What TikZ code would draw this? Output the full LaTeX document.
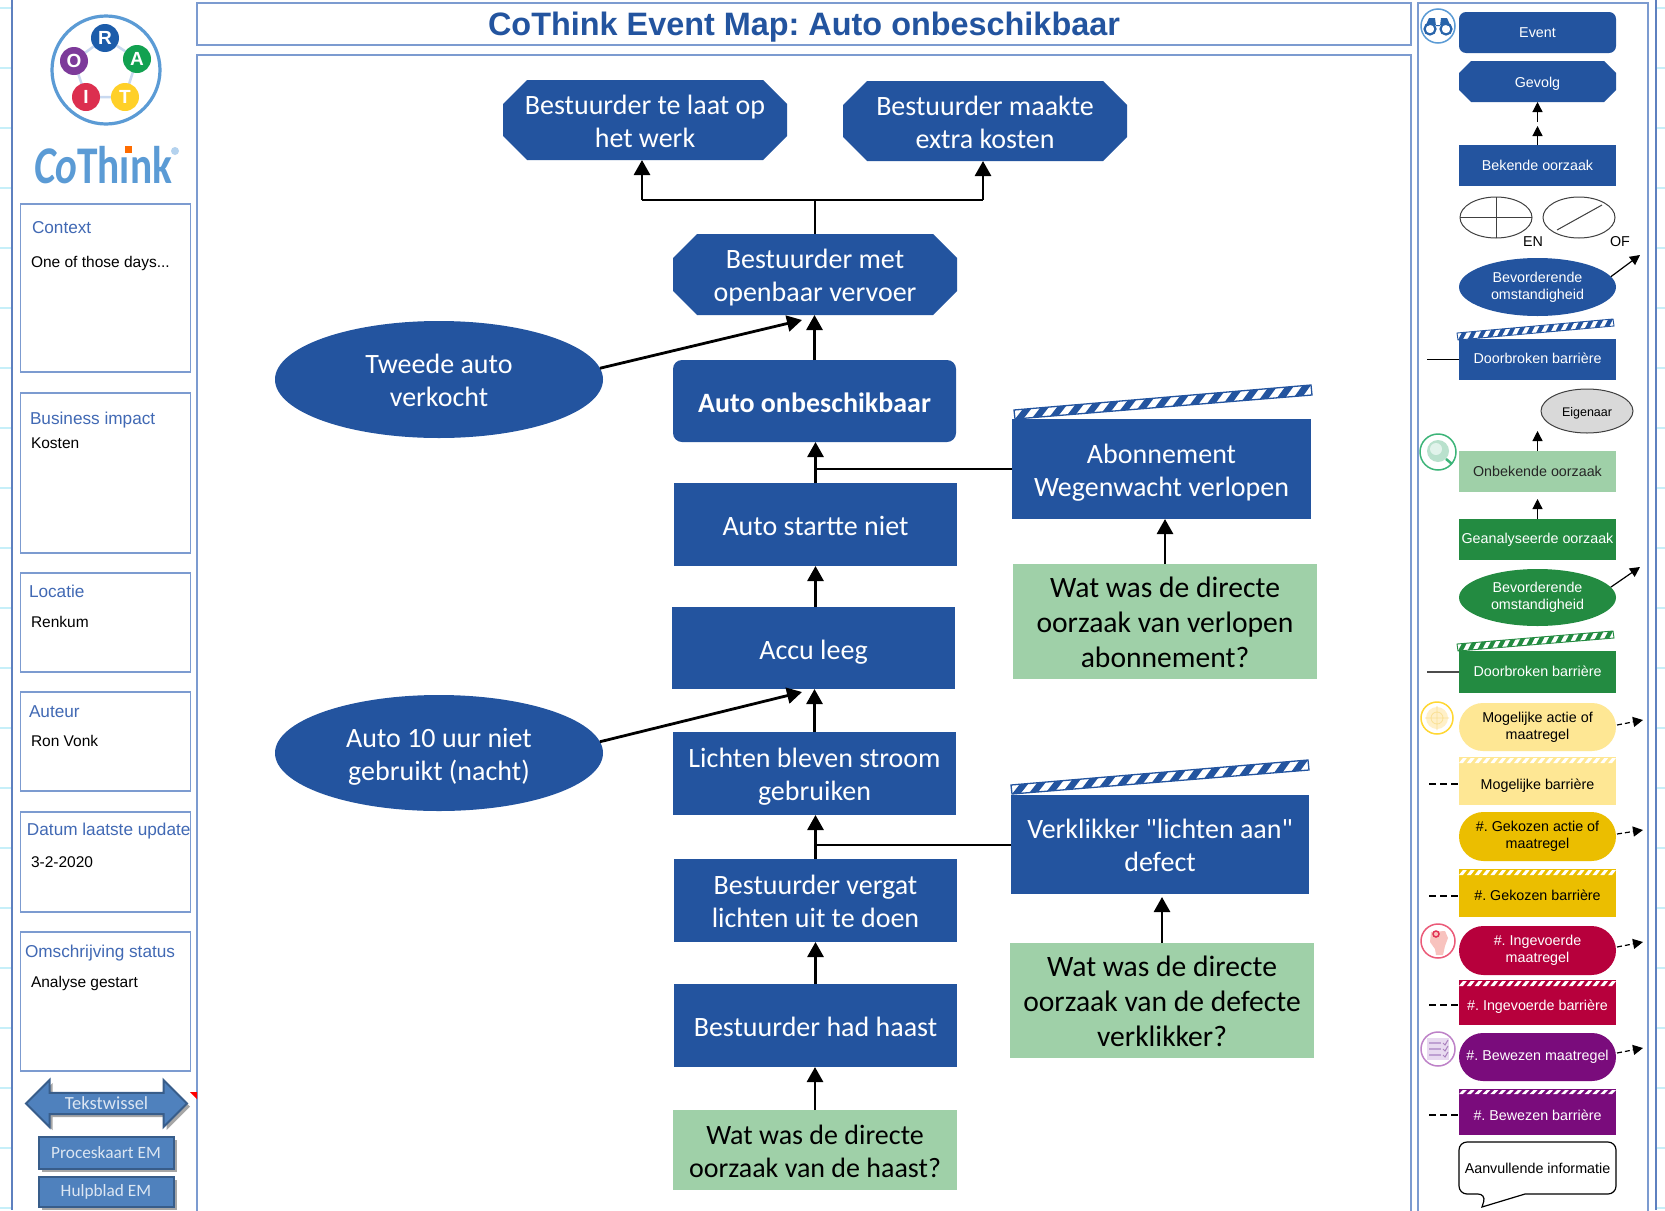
\documentclass[tikz,border=0pt]{standalone}
\usepackage{fontspec}
\setmainfont{Carlito}
\newfontfamily\arialf{Liberation Sans}
\newfontfamily\plainc[Ligatures=NoCommon]{Carlito}
\usetikzlibrary{arrows.meta,shapes.misc,shapes.geometric,shapes.arrows,shadows,calc}
\AtBeginDocument{\frenchspacing}
\definecolor{eblue}{HTML}{23549F}
\definecolor{frameb}{HTML}{7C9BD0}
\definecolor{lblue}{HTML}{4169B4}
\definecolor{lgreen}{HTML}{9FD0A8}
\definecolor{dgreen}{HTML}{238B41}
\definecolor{pyellow}{HTML}{FEE794}
\definecolor{gyellow}{HTML}{EBBE00}
\definecolor{cred}{HTML}{B7003C}
\definecolor{cpurple}{HTML}{7A0C7C}
\definecolor{btn}{HTML}{4F81BD}
\definecolor{btnb}{HTML}{385D8A}
\definecolor{btnt}{HTML}{DCE6F2}
\definecolor{logob}{HTML}{5B9BD5}
\definecolor{logoin}{HTML}{C9D9F0}
\definecolor{ballR}{HTML}{1C5CAA}
\definecolor{ballA}{HTML}{12A150}
\definecolor{ballT}{HTML}{FFD028}
\definecolor{ballI}{HTML}{DC2F4F}
\definecolor{ballO}{HTML}{7D3A9A}
\definecolor{logoreg}{HTML}{B4D2EE}
\definecolor{icbin}{HTML}{2864AA}
\definecolor{icg}{HTML}{3CB478}
\definecolor{icg1}{HTML}{B9E1CD}
\definecolor{icg2}{HTML}{E1F3EB}
\definecolor{icy}{HTML}{FFD732}
\definecolor{icy1}{HTML}{FFF0C8}
\definecolor{icy2}{HTML}{FAE196}
\definecolor{icr}{HTML}{EB5A78}
\definecolor{icr1}{HTML}{F8C3BE}
\definecolor{icr2}{HTML}{E13255}
\definecolor{icp}{HTML}{BE82C8}
\definecolor{icp1}{HTML}{E8DAF0}
\definecolor{icp2}{HTML}{BEA0D2}
\definecolor{icp3}{HTML}{AA82BE}
\definecolor{tickc}{HTML}{C6EFF9}
\newcommand\fsz[2]{\fontsize{#1}{#2}\selectfont}
\newcommand\lowered[2]{\raisebox{-#1pt}[0pt][0pt]{#2}}
\newcommand\up{\rule{0pt}{29pt}}
\newcommand\hatchbar[7]{%
  \begin{scope}
  \clip (#1)--(#2)--(#4)--(#3)--cycle;
  \fill[#5] (#1)--(#2)--(#4)--(#3)--cycle;
  \foreach \k in {-1,...,#7}{
    \pgfmathsetmacro\ta{\k/#7}
    \pgfmathsetmacro\tb{(\k+0.5)/#7}
    \pgfmathsetmacro\tc{(\k+0.5)/#7}
    \pgfmathsetmacro\td{(\k+1)/#7}
    \fill[#6] ($(#1)!\ta!(#2)$) -- ($(#1)!\tb!(#2)$) -- ($(#3)!\td!(#4)$) -- ($(#3)!\tc!(#4)$) -- cycle;
  }
  \end{scope}}
% style, name, x, y, w, h, chamfer, text
\newcommand\octa[8]{%
  \fill[eblue,shift={(#3,#4)}] ({-#5/2+#7},{-#6/2}) -- ({#5/2-#7},{-#6/2}) -- ({#5/2},{-#6/2+#7}) -- ({#5/2},{#6/2-#7}) -- ({#5/2-#7},{#6/2}) -- ({-#5/2+#7},{#6/2}) -- ({-#5/2},{#6/2-#7}) -- ({-#5/2},{-#6/2+#7}) -- cycle;
  \node[#1,fill=none,minimum width=#5pt,minimum height=#6pt] (#2) at (#3,#4) {#8};}
\tikzset{
  x=1pt,y=-1pt,
  every node/.style={inner sep=0pt,outer sep=0pt},
  frm/.style={draw=frameb,line width=1.3pt,fill=white},
  tick/.style={draw=tickc,line width=1.5pt},
  strutted/.style={execute at begin node={\rule{0pt}{30pt}},execute at end node={\rule[-8pt]{0pt}{8pt}}},
  mainfont/.style={font=\fsz{28}{33},text=white,align=center,strutted},
  mbox/.style={mainfont,fill=eblue,minimum width=283pt,minimum height=83pt},
  mell/.style={mainfont,ellipse,fill=eblue,minimum width=328pt,minimum height=117pt},
  qbox/.style={font=\fsz{29.6}{35},text=black,align=center,fill=lgreen,minimum width=304pt,minimum height=115pt,strutted},
  arr/.style={draw=black,line width=2.8pt,-{Triangle[length=15pt,width=16pt]}},
  plainl/.style={draw=black,line width=2pt},
  sideh/.style={anchor=west,font=\arialf\fsz{17.2}{20},text=lblue},
  sidet/.style={anchor=west,font=\arialf\fsz{15.5}{18},text=black},
  btnbox/.style={draw=btnb,line width=2pt,fill=btn,text=btnt,font=\fsz{18.5}{22},drop shadow={shadow xshift=3pt,shadow yshift=-3pt,fill=black,opacity=.35}},
  ltext/.style={font=\arialf\fsz{14.3}{17},align=center},
  leg/.style={ltext,text=white,fill=eblue,minimum width=157pt,minimum height=41pt},
  lggreen/.style={leg,fill=dgreen},
  lgell/.style={ltext,text=white,ellipse,minimum width=157pt,minimum height=58pt},
  lpill/.style={ltext,rounded rectangle,minimum width=157pt,minimum height=48pt},
  lbar/.style={ltext,minimum width=157pt},
  gateell/.style={ellipse,draw=black!75,line width=1pt,minimum width=72pt,minimum height=41pt},
  larr/.style={draw=black,line width=1.2pt,-{Triangle[length=10pt,width=10pt]}},
  ldash/.style={draw=black,line width=1.2pt,dash pattern=on 7pt off 4pt},
  ldarr/.style={draw=black,line width=1.2pt,dash pattern=on 5pt off 3pt,-{Triangle[length=10pt,width=10pt]}},
  ball/.style={circle,minimum size=28pt,text=white,font=\arialf\bfseries\fsz{19}{22}},
  ring/.style={circle,fill=white,minimum size=34pt,line width=1.5pt},
}
\begin{document}
\begin{tikzpicture}
\useasboundingbox (0,0) rectangle (1665,1210);
\fill[white] (0,0) rectangle (1665,1210);
% grid ticks
\foreach \yy in {8,68,...,1208}{
  \draw[tick] (0,\yy) -- (12,\yy);
  \draw[tick] (1656,\yy) -- (1665,\yy);
}
% outer lines
\draw[draw=lblue!85,line width=2pt] (12,0) -- (12,1210);
\draw[draw=lblue!85,line width=2pt] (1656,0) -- (1656,1210);
% frames
\draw[frm] (197,3) rectangle (1411,45);
\draw[frm] (197,55) rectangle (1411,1220);
\draw[frm] (1418,3) rectangle (1648,1220);
\node[font=\arialf\bfseries\fsz{32.4}{36},text=eblue] (title) at (804,27) {CoThink Event Map: Auto onbeschikbaar};
% logo
\draw[draw=logoin,line width=2.5pt] (105,38)--(137,59)--(125,97)--(86,97)--(74,61)--cycle;
\node[circle,draw=logob,line width=3.2pt,minimum size=108pt] (lgc) at (106,70) {};
\node[ball,fill=ballR] (bR) at (105,38) {R};
\node[ball,fill=ballA] (bA) at (137,59) {A};
\node[ball,fill=ballT] (bT) at (125,97) {T};
\node[ball,fill=ballI] (bI) at (86,97) {I};
\node[ball,fill=ballO] (bO) at (74,61) {O};
\node[anchor=base west,xscale=.78,font=\bfseries\fsz{53}{56},text=logob] (lgt) at (34,183) {\textit{Co}Thınk};
\fill[orange!85!red] (125,146) rectangle (132,153);
\node[circle,fill=logoreg,minimum size=8pt] (lgreg) at (175,151) {};
% left boxes
\draw[frm] (20.5,204) rectangle (190.5,372);
\draw[frm] (20.5,393) rectangle (190.5,553);
\draw[frm] (20.5,573) rectangle (190.5,672);
\draw[frm] (20.5,692) rectangle (190.5,791);
\draw[frm] (20.5,812) rectangle (190.5,912);
\draw[frm] (20.5,932) rectangle (190.5,1071);
\node[sideh] (h1) at (32,228) {Context};
\node[sidet] (t1) at (31,263) {One of those days...};
\node[sideh] (h2) at (30,420) {Business impact};
\node[sidet] (t2) at (31,443) {Kosten};
\node[sideh] (h3) at (29,591) {Locatie};
\node[sidet] (t3) at (31,622) {Renkum};
\node[sideh] (h4) at (29,712) {Auteur};
\node[sidet] (t4) at (31,741) {Ron Vonk};
\node[sideh] (h5) at (27,831) {Datum laatste update};
\node[sidet] (t5) at (31,862) {3-2-2020};
\node[sideh] (h6) at (25,953) {Omschrijving status};
\node[sidet] (t6) at (31,983) {Analyse gestart};
% buttons
\node[btnbox,double arrow,double arrow head extend=9pt,double arrow tip angle=90,minimum height=161pt,minimum width=47pt,shape border rotate=0] (tw) at (106.5,1103.5) {Tekstwissel};
\node[btnbox,font=\fsz{17.3}{22},minimum width=135pt,minimum height=32pt] (pk) at (106,1152.5) {Proceskaart EM};
\node[btnbox,font=\fsz{17.3}{22},minimum width=135pt,minimum height=30pt] (hb) at (106,1191.5) {Hulpblad EM};
\fill[red] (190,1092) -- (197,1092) -- (197,1099) -- cycle;
% main nodes
\octa{mbox}{oct1}{645}{120}{284}{80}{24}{\up Bestuurder te laat op\\het werk}
\octa{mbox}{oct2}{985}{121}{284}{80}{24}{\up Bestuurder maakte\\extra kosten}
\octa{mbox}{oct3}{815}{274.5}{284}{81}{24}{\up Bestuurder met\\openbaar vervoer}
\node[mbox,rounded corners=9pt,minimum height=82pt,font=\bfseries\fsz{28}{33}] (auto) at (814.5,401) {Auto onbeschikbaar};
\node[mbox] (start) at (815.5,524.5) {Auto startte niet};
\node[mbox,minimum height=82pt] (accu) at (813.5,648) {Accu leeg};
\node[mbox] (licht) at (814.5,773.5) {\up Lichten bleven stroom\\gebruiken};
\node[mbox] (verg) at (815.5,900.5) {\up Bestuurder vergat\\lichten uit te doen};
\node[mbox] (haast) at (815.5,1025.5) {Bestuurder had haast};
\node[mbox,fill=lgreen,text=black,minimum width=284pt,minimum height=80pt] (qh) at (815,1150) {\up Wat was de directe\\oorzaak van de haast?};
\node[mell] (ell1) at (439,379.5) {\up Tweede auto\\verkocht};
\node[mell,minimum height=116pt] (ell2) at (439,753) {\up Auto 10 uur niet\\gebruikt (nacht)};
\node[mbox,minimum width=299pt,minimum height=100pt] (abo) at (1161.5,469) {\up Abonnement\\Wegenwacht verlopen};
\node[qbox] (qv) at (1165,621.5) {\up Wat was de directe\\oorzaak van verlopen\\abonnement?};
\node[mbox,minimum width=298pt,minimum height=99pt] (verk) at (1160,844.5) {\up Verklikker {\plainc "}lichten aan{\plainc "}\\defect};
\node[qbox] (qd) at (1162,1000.5) {\up Wat was de directe\\oorzaak van de defecte\\verklikker?};
% tilted bars
\coordinate (b1bl) at (1015,419); \coordinate (b1br) at (1312,395);
\coordinate (b1tl) at (1014,410); \coordinate (b1tr) at (1311,385);
\hatchbar{b1bl}{b1br}{b1tl}{b1tr}{white}{eblue}{17}
\draw[eblue,line width=1.3pt] (b1bl)--(b1br)--(b1tr)--(b1tl)--cycle;
\coordinate (b2bl) at (1012,794); \coordinate (b2br) at (1309,770);
\coordinate (b2tl) at (1011,785); \coordinate (b2tr) at (1308,760);
\hatchbar{b2bl}{b2br}{b2tl}{b2tr}{white}{eblue}{17}
\draw[eblue,line width=1.3pt] (b2bl)--(b2br)--(b2tr)--(b2tl)--cycle;
% main connectors
\coordinate (jn) at (815,200);
\coordinate (jl) at (642,200);
\coordinate (jr) at (983,200);
\draw[plainl] (oct3.north) -- (jn);
\draw[plainl] (jl) -- (jr);
\draw[arr] (jl) -- (jl |- oct1.south);
\draw[arr] (jr) -- (jr |- oct2.south);
\draw[arr] (auto.north) -- (auto.north |- oct3.south);
\draw[arr] (start.north) -- (start.north |- auto.south);
\draw[arr] (accu.north -| start.north) -- (start.south);
\draw[arr] (licht.north) -- (licht.north |- accu.south);
\draw[arr] (verg.north) -- (verg.north |- licht.south);
\draw[arr] (haast.north) -- (verg.south);
\draw[arr] (qh.north) -- (qh.north |- haast.south);
\coordinate (e1t) at (802,320);
\coordinate (e2t) at (802,692);
\draw[arr] (ell1.4) -- (e1t);
\draw[arr] (ell2.4) -- (e2t);
\coordinate (j1) at (815,469);
\coordinate (j2) at (815,844.5);
\draw[plainl] (abo.west) -- (j1);
\draw[plainl] (verk.west) -- (j2);
\draw[arr] (qv.north) -- (qv.north |- abo.south);
\coordinate (qdt) at (1163,897);
\draw[arr] (qd.north) -- (qd.north |- qdt);
% legend
\node[leg,rounded corners=7pt] (lev) at (1537.5,32.5) {Event};
\octa{leg}{lge}{1537.5}{81.5}{157}{41}{12}{\lowered{6}{Gevolg}}
\node[leg] (lbe) at (1537.5,165.5) {Bekende oorzaak};
\coordinate (lm1) at (1537.5,126); \coordinate (lm2) at (1537.5,122);
\draw[larr] (lbe.north) -- (lm1);
\draw[larr] (lm2) -- (lge.south);
\node[gateell] (len) at (1496,217.5) {};
\node[gateell] (lof) at (1579,217.5) {};
\draw[draw=black!75,line width=1pt] (len.west) -- (len.east) (len.north) -- (len.south);
\coordinate (lofa) at (1557,230); \coordinate (lofb) at (1602,205);
\draw[draw=black!75,line width=1pt] (lofa) -- (lofb);
\node[ltext] (lentx) at (1533,242) {EN};
\node[ltext] (loftx) at (1620,242) {OF};
\node[lgell,fill=eblue] (lbv) at (1537.5,287) {Bevorderende\\omstandigheid};
\coordinate (lbvt) at (1640,255);
\draw[larr] (lbv.8) -- (lbvt);
\node[leg] (ldb) at (1537.5,359.5) {\lowered{4}{Doorbroken barrière}};
\coordinate (l1bl) at (1458,340); \coordinate (l1br) at (1614,326);
\coordinate (l1tl) at (1457,333); \coordinate (l1tr) at (1613,319);
\hatchbar{l1bl}{l1br}{l1tl}{l1tr}{white}{eblue}{16}
\draw[eblue,line width=.9pt] (l1bl)--(l1br)--(l1tr)--(l1tl)--cycle;
\coordinate (ldbl) at (1427,359.5);
\draw[draw=black,line width=1.2pt] (ldbl) -- (ldb.west);
\node[ltext,ellipse,draw=black!75,line width=1pt,fill=black!15,text=black,minimum width=92pt,minimum height=44pt,font=\arialf\fsz{12.5}{15}] (lei) at (1587,411) {\lowered{5}{Eigenaar}};
\node[leg,fill=lgreen,text=black!85] (lon) at (1537.5,471.5) {Onbekende oorzaak};
\coordinate (lont) at (1537.5,431);
\draw[larr] (lon.north) -- (lont);
\node[lggreen] (lga) at (1537.5,539.5) {Geanalyseerde oorzaak};
\coordinate (lgat) at (1537.5,499);
\draw[larr] (lga.north) -- (lgat);
\node[lgell,fill=dgreen,minimum height=57pt] (lbg) at (1537.5,597.5) {Bevorderende\\omstandigheid};
\coordinate (lbgt) at (1640,567);
\draw[larr] (lbg.8) -- (lbgt);
\node[lggreen,minimum height=42pt] (ldg) at (1537.5,672) {\lowered{4.5}{Doorbroken barrière}};
\coordinate (l2bl) at (1458,651); \coordinate (l2br) at (1614,638);
\coordinate (l2tl) at (1457,644); \coordinate (l2tr) at (1613,631);
\hatchbar{l2bl}{l2br}{l2tl}{l2tr}{white}{dgreen}{16}
\draw[dgreen,line width=.9pt] (l2bl)--(l2br)--(l2tr)--(l2tl)--cycle;
\coordinate (ldgl) at (1427,672);
\draw[draw=black!70,line width=1.2pt] (ldgl) -- (ldg.west);
% pills and barriers
\node[lpill,fill=pyellow,text=black] (lmo) at (1537.5,727) {Mogelijke actie of\\maatregel};
\coordinate (lmot) at (1643,720); \coordinate (lmos) at (1617,725);
\draw[ldarr] (lmos) -- (lmot);
\node[lbar,fill=pyellow,text=black,minimum height=48pt] (lmb) at (1537.5,781) {\lowered{8.5}{Mogelijke barrière}};
\coordinate (s1a) at (1459,763); \coordinate (s1b) at (1616,763); \coordinate (s1c) at (1459,758); \coordinate (s1d) at (1616,758);
\hatchbar{s1a}{s1b}{s1c}{s1d}{pyellow}{white}{20}
\coordinate (lmbl) at (1429,784);
\draw[ldash] (lmbl) -- (lmb.west |- lmbl);
\node[lpill,fill=gyellow,text=black,minimum height=49pt] (lgk) at (1537.5,836.5) {\#. Gekozen actie of\\maatregel};
\coordinate (lgkt) at (1643,830); \coordinate (lgks) at (1617,834);
\draw[ldarr] (lgks) -- (lgkt);
\node[lbar,fill=gyellow,text=black,minimum height=48pt] (lgb) at (1537.5,893) {\lowered{7.5}{\#. Gekozen barrière}};
\coordinate (s2a) at (1459,875); \coordinate (s2b) at (1616,875); \coordinate (s2c) at (1459,870); \coordinate (s2d) at (1616,870);
\hatchbar{s2a}{s2b}{s2c}{s2d}{gyellow}{white}{20}
\coordinate (lgbl) at (1429,896);
\draw[ldash] (lgbl) -- (lgb.west |- lgbl);
\node[lpill,fill=cred,text=white,minimum height=49pt] (lin) at (1537.5,950.5) {\#. Ingevoerde\\maatregel};
\coordinate (lint) at (1643,942); \coordinate (lins) at (1617,947);
\draw[ldarr] (lins) -- (lint);
\node[lbar,fill=cred,text=white,minimum height=45pt] (lib) at (1537.5,1002.5) {\lowered{7.5}{\#. Ingevoerde barrière}};
\coordinate (s3a) at (1459,986); \coordinate (s3b) at (1616,986); \coordinate (s3c) at (1459,981); \coordinate (s3d) at (1616,981);
\hatchbar{s3a}{s3b}{s3c}{s3d}{cred}{white}{20}
\coordinate (libl) at (1429,1005);
\draw[ldash] (libl) -- (lib.west |- libl);
\node[lpill,fill=cpurple,text=white] (lbw) at (1537.5,1057) {\#. Bewezen maatregel};
\coordinate (lbwt) at (1643,1048); \coordinate (lbws) at (1617,1053);
\draw[ldarr] (lbws) -- (lbwt);
\node[lbar,fill=cpurple,text=white,minimum height=46pt] (lwb) at (1537.5,1112) {\lowered{8.5}{\#. Bewezen barrière}};
\coordinate (s4a) at (1459,1094); \coordinate (s4b) at (1616,1094); \coordinate (s4c) at (1459,1090); \coordinate (s4d) at (1616,1090);
\hatchbar{s4a}{s4b}{s4c}{s4d}{cpurple}{white}{20}
\coordinate (lwbl) at (1429,1115);
\draw[ldash] (lwbl) -- (lwb.west |- lwbl);
% callout
\draw[draw=black,line width=1.2pt,fill=white,rounded corners=8pt] (1525,1194) -- (1616,1194) -- (1616,1142) -- (1459,1142) -- (1459,1194) -- (1486,1194) [sharp corners] -- (1482,1207) -- cycle;
\node[ltext,text=black] (lca) at (1537.5,1168) {Aanvullende informatie};
% icons
\node[ring,draw=logob] (ic1) at (1438,26) {};
\draw[draw=icbin,line width=2.2pt,fill=white] (1430,29) circle (5.5) (1446,29) circle (5.5);
\fill[icbin] (1425,27) -- (1429,18) -- (1435,18) -- (1436,26) -- (1440,26) -- (1441,18) -- (1447,18) -- (1451,27) -- (1446,25) -- (1430,25) -- cycle;
\node[ring,draw=icg,minimum size=36pt] (ic2) at (1438,452) {};
\fill[icg1] (1438,451) circle (11);
\fill[icg2] (1436,449) circle (6);
\draw[draw=icg,line width=2.5pt] (1446,459) -- (1452,464);
\node[ring,draw=icy,minimum size=32pt] (ic3) at (1437,718) {};
\fill[icy1] (1437,718) circle (11);
\draw[draw=icy2,line width=.8pt] (1437,718) circle (6) (1425,718) -- (1449,718) (1437,706) -- (1437,730);
\node[ring,draw=icr] (ic4) at (1438,941) {};
\fill[icr1] (1431,932) -- (1445,931) -- (1448,938) -- (1445,946) -- (1443,955) -- (1436,955) -- (1435,949) -- (1430,942) -- cycle;
\draw[draw=icr2,line width=1.5pt] (1436,934) circle (3);
\node[ring,draw=icp] (ic5) at (1438,1049) {};
\fill[icp1] (1427,1038) rectangle (1449,1060);
\foreach \yy in {1043,1049,1055}{
  \draw[draw=icp2,line width=1.5pt] (1429,\yy) -- (1441,\yy);
  \draw[draw=icp3,line width=1pt] (1443,\yy) -- (1445,\yy+2) -- (1448,\yy-3);
}
\end{tikzpicture}
\end{document}
